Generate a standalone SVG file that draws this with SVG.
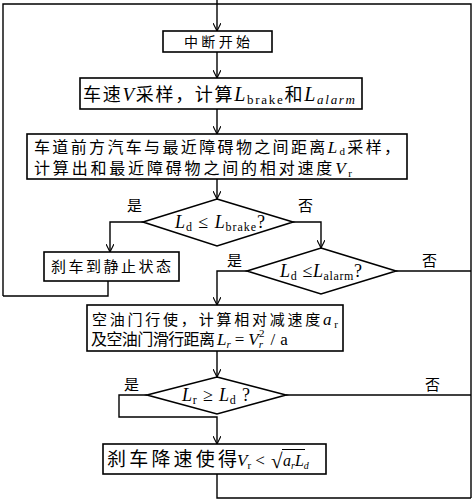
<svg xmlns="http://www.w3.org/2000/svg" width="474" height="502" viewBox="0 0 474 502">
<defs>
<marker id="arr" viewBox="0 0 10 10" refX="10" refY="5" markerWidth="8" markerHeight="8" orient="auto" markerUnits="userSpaceOnUse">
<path d="M0,0 L10,5 L0,10" fill="none" stroke="#000" stroke-width="1.4"/>
</marker>
<style>
.b{fill:#fff;stroke:#000;stroke-width:1.6}
.c{fill:none;stroke:#000;stroke-width:1.4}
.a{marker-end:url(#arr)}
text{font-family:"Liberation Serif","Noto Sans CJK SC",serif;fill:#000}
.cj{font-size:15px}
.i{font-style:italic}
</style>
</defs>
<rect width="474" height="502" fill="#fff"/>
<g id="connectors">
<path class="c" d="M3,296 V4 H471 V498"/>
<path class="c a" d="M217,0 V31"/>
<path class="c a" d="M217,52 V78"/>
<path class="c a" d="M217,109 V134"/>
<path class="c a" d="M217,179 V199"/>
<path class="c a" d="M143,222 H110 V252"/>
<path class="c" d="M108,281 V296 H3"/>
<path class="c a" d="M293,222 H321 V248"/>
<path class="c a" d="M247,271 H217 V305"/>
<path class="c" d="M396,271 H471"/>
<path class="c a" d="M217,351 V377"/>
<path class="c a" d="M147,395 H119 V417 H217 V444"/>
<path class="c" d="M286,395 H471"/>
<path class="c" d="M217,474 V498 H471"/>
</g>
<g id="n1">
<rect class="b" x="163" y="31" width="109" height="21"/>
<text x="217" y="47" text-anchor="middle" font-size="14" textLength="66" lengthAdjust="spacing">中断开始</text>
</g>
<g id="n2">
<rect class="b" x="80" y="78" width="282" height="31"/>
<text x="83" y="101" font-size="18" textLength="272" lengthAdjust="spacing">车速<tspan class="i" font-size="19">V</tspan>采样，计算<tspan class="i" font-size="20">L</tspan><tspan font-size="13" dy="3">brake</tspan><tspan dy="-3">和</tspan><tspan class="i" font-size="20">L</tspan><tspan class="i" font-size="13" dy="3">alarm</tspan></text>
</g>
<g id="n3">
<rect class="b" x="27" y="134" width="380" height="45"/>
<text x="34" y="153" font-size="16" textLength="366" lengthAdjust="spacing">车道前方汽车与最近障碍物之间距离<tspan class="i" font-size="17">L</tspan><tspan font-size="11" dy="2">d</tspan><tspan dy="-2">采样，</tspan></text>
<text x="34" y="174" font-size="16" textLength="318" lengthAdjust="spacing">计算出和最近障碍物之间的相对速度<tspan class="i" font-size="17">V</tspan><tspan font-size="11" dy="3">r</tspan></text>
</g>
<g id="d1">
<polygon class="b" points="217,199 293,222 217,246 143,222"/>
<text x="175" y="228" font-size="18" textLength="90" lengthAdjust="spacing"><tspan class="i">L</tspan><tspan font-size="12" dy="3">d</tspan><tspan dy="-3"> ≤ </tspan><tspan class="i">L</tspan><tspan font-size="12" dy="3">brake</tspan><tspan dy="-3">?</tspan></text>
<text x="127" y="211" class="cj">是</text>
<text x="298" y="211" class="cj">否</text>
</g>
<g id="n4">
<rect class="b" x="44" y="252" width="135" height="29"/>
<text x="111" y="272" text-anchor="middle" font-size="15" textLength="120" lengthAdjust="spacing">刹车到静止状态</text>
</g>
<g id="d2">
<polygon class="b" points="321,248 396,271 321,294 247,271"/>
<text x="280" y="277" font-size="18" textLength="82" lengthAdjust="spacing"><tspan class="i">L</tspan><tspan font-size="12" dy="3">d</tspan><tspan dy="-3"> ≤</tspan><tspan class="i">L</tspan><tspan font-size="12" dy="3">alarm</tspan><tspan dy="-3">?</tspan></text>
<text x="227" y="266" class="cj">是</text>
<text x="422" y="266" class="cj">否</text>
</g>
<g id="n5">
<rect class="b" x="87" y="305" width="256" height="46"/>
<text x="92" y="325" font-size="15" textLength="246" lengthAdjust="spacing">空油门行使，计算相对减速度<tspan class="i" font-size="17">a</tspan><tspan font-size="11" dy="3">r</tspan></text>
<text x="91" y="345" font-size="16" textLength="124" lengthAdjust="spacing">及空油门滑行距离</text>
<text x="217" y="345" font-size="17"><tspan class="i">L</tspan><tspan class="i" font-size="11" dy="3">r</tspan><tspan dy="-3" dx="4">=</tspan><tspan class="i" dx="4">V</tspan><tspan class="i" font-size="11" dy="3">r</tspan><tspan font-size="11" dy="-11" dx="-4">2</tspan><tspan dy="8" dx="6">/</tspan><tspan dx="5">a</tspan></text>
</g>
<g id="d3">
<polygon class="b" points="217,377 286,395 217,414 147,395"/>
<text x="182" y="401" font-size="18" textLength="68" lengthAdjust="spacing"><tspan class="i">L</tspan><tspan font-size="12" dy="3">r</tspan><tspan dy="-3"> ≥ </tspan><tspan class="i">L</tspan><tspan font-size="12" dy="3">d</tspan><tspan dy="-3"> ?</tspan></text>
<text x="124" y="390" class="cj">是</text>
<text x="425" y="390" class="cj">否</text>
</g>
<g id="n6">
<rect class="b" x="103" y="444" width="223" height="30"/>
<text x="107" y="466" font-size="19" textLength="130" lengthAdjust="spacing">刹车降速使得</text>
<text x="237" y="466" font-size="17"><tspan class="i">V</tspan><tspan font-size="11" dy="3">r</tspan><tspan dy="-3"> &lt;</tspan></text>
<text x="271" y="468" font-size="21">√</text>
<text x="283" y="466" font-size="16"><tspan class="i">a</tspan><tspan class="i" font-size="10" dy="3">r</tspan><tspan class="i" dy="-3">L</tspan><tspan class="i" font-size="10" dy="3">d</tspan></text>
<path d="M282,449.5 H305" stroke="#000" stroke-width="1" fill="none"/>
</g>
</svg>
